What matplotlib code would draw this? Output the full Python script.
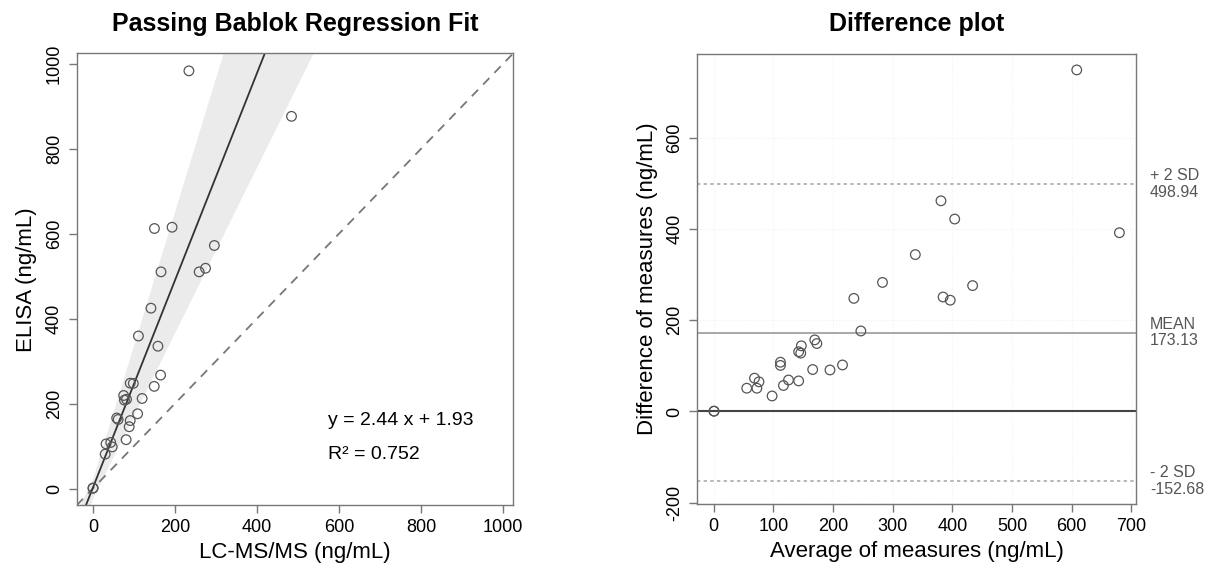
import numpy as np
import matplotlib.pyplot as plt
from matplotlib.transforms import blended_transform_factory

plt.rcParams['font.family'] = ['Liberation Sans', 'DejaVu Sans']
plt.rcParams['axes.unicode_minus'] = False

lcms = np.array([0.2, 0.5, 30, 32, 47, 43.5, 81, 58, 61.5, 88.5, 91, 109, 77, 82, 75,
                 120, 91, 98.5, 149.5, 165, 111, 158.5, 141.5, 166, 150, 259, 274.5,
                 193, 296, 234, 484])
elisa = np.array([0.8, 1.2, 81, 105, 98, 108.5, 115, 166, 162.5, 145.5, 160, 176, 208,
                  210, 219, 212, 248, 247.5, 240.5, 267, 359, 335, 424.5, 510, 612,
                  510, 518.5, 615, 572, 983, 876])

# Passing-Bablok fit and confidence limits of its coefficients
slope, intercept = 2.44, 1.93
slope_ci = (1.95, 3.15)
intercept_ci = (-25.0, 20.0)
r2 = 0.752

# Bland-Altman limits
mean_diff = 173.13
upper_sd = 498.94
lower_sd = -152.68

avg = (lcms + elisa) / 2
diff = elisa - lcms

fig = plt.figure(figsize=(12.08, 5.68), dpi=100)
ax1 = fig.add_axes([0.0635, 0.1104, 0.3614, 0.7958])
ax2 = fig.add_axes([0.5774, 0.1118, 0.3626, 0.7940])

edge = '#555555'
for ax in (ax1, ax2):
    for s in ax.spines.values():
        s.set_color('#777777')
        s.set_linewidth(1.0)
    ax.tick_params(length=6, width=1, color='#777777', labelsize=13, pad=4)

# --- left: regression fit ---
lim = (-39.4, 1024.4)
xs = np.linspace(lim[0], lim[1], 300)
lines = np.array([a + b * xs for a in intercept_ci for b in slope_ci])
ax1.fill_between(xs, lines.min(axis=0), lines.max(axis=0), color='#ebebeb', lw=0)
ax1.plot(xs, xs, color='#777777', ls=(0, (5, 4)), lw=1.3)
ax1.plot(xs, intercept + slope * xs, color='#333333', lw=1.3)
ax1.scatter(lcms, elisa, s=48, facecolors='none', edgecolors=edge, linewidths=0.9, zorder=3)
ax1.set_xlim(lim)
ax1.set_ylim(lim)
ax1.set_xticks([0, 200, 400, 600, 800, 1000])
ax1.set_yticks([0, 200, 400, 600, 800, 1000])
plt.setp(ax1.get_yticklabels(), rotation=90, va='center')
ax1.set_xlabel('LC-MS/MS (ng/mL)', fontsize=16, labelpad=4)
ax1.set_ylabel('ELISA (ng/mL)', fontsize=16, labelpad=6)
ax1.set_title('Passing Bablok Regression Fit', fontsize=18, fontweight='bold', pad=16)
ax1.text(573, 161, f'y = {slope:.2f} x + {intercept:.2f}', fontsize=14, va='center')
ax1.text(573, 81, f'R\u00b2 = {r2:.3f}', fontsize=14, va='center')

# --- right: difference plot ---
for v in [0, 100, 200, 300, 400, 500, 600, 700]:
    ax2.axvline(v, color='#f2f2f2', lw=0.8, ls=':', zorder=0)
for v in [-200, 200, 400, 600]:
    ax2.axhline(v, color='#f2f2f2', lw=0.8, ls=':', zorder=0)
ax2.axhline(0, color='#444444', lw=1.5)
ax2.axhline(mean_diff, color='#999999', lw=1.2)
ax2.axhline(upper_sd, color='#aaaaaa', lw=1.2, ls=(0, (2, 2)))
ax2.axhline(lower_sd, color='#aaaaaa', lw=1.2, ls=(0, (2, 2)))
ax2.scatter(avg, diff, s=48, facecolors='none', edgecolors=edge, linewidths=0.9, zorder=3)
ax2.set_xlim(-27, 707)
ax2.set_ylim(-204, 785)
ax2.set_xticks([0, 100, 200, 300, 400, 500, 600, 700])
ax2.set_yticks([-200, 0, 200, 400, 600])
plt.setp(ax2.get_yticklabels(), rotation=90, va='center')
ax2.set_xlabel('Average of measures (ng/mL)', fontsize=16, labelpad=4)
ax2.set_ylabel('Difference of measures (ng/mL)', fontsize=16, labelpad=6)
ax2.set_title('Difference plot', fontsize=18, fontweight='bold', pad=16)

tr = blended_transform_factory(ax2.transAxes, ax2.transData)
for lab, v in [('+ 2 SD', upper_sd), ('MEAN', mean_diff), ('- 2 SD', lower_sd)]:
    ax2.text(1.033, v, f'{lab}\n{v:.2f}', transform=tr, fontsize=11.5, color='#555555',
             va='center', ha='left', linespacing=1.1, clip_on=False)

fig.savefig('out.png', dpi=100)
